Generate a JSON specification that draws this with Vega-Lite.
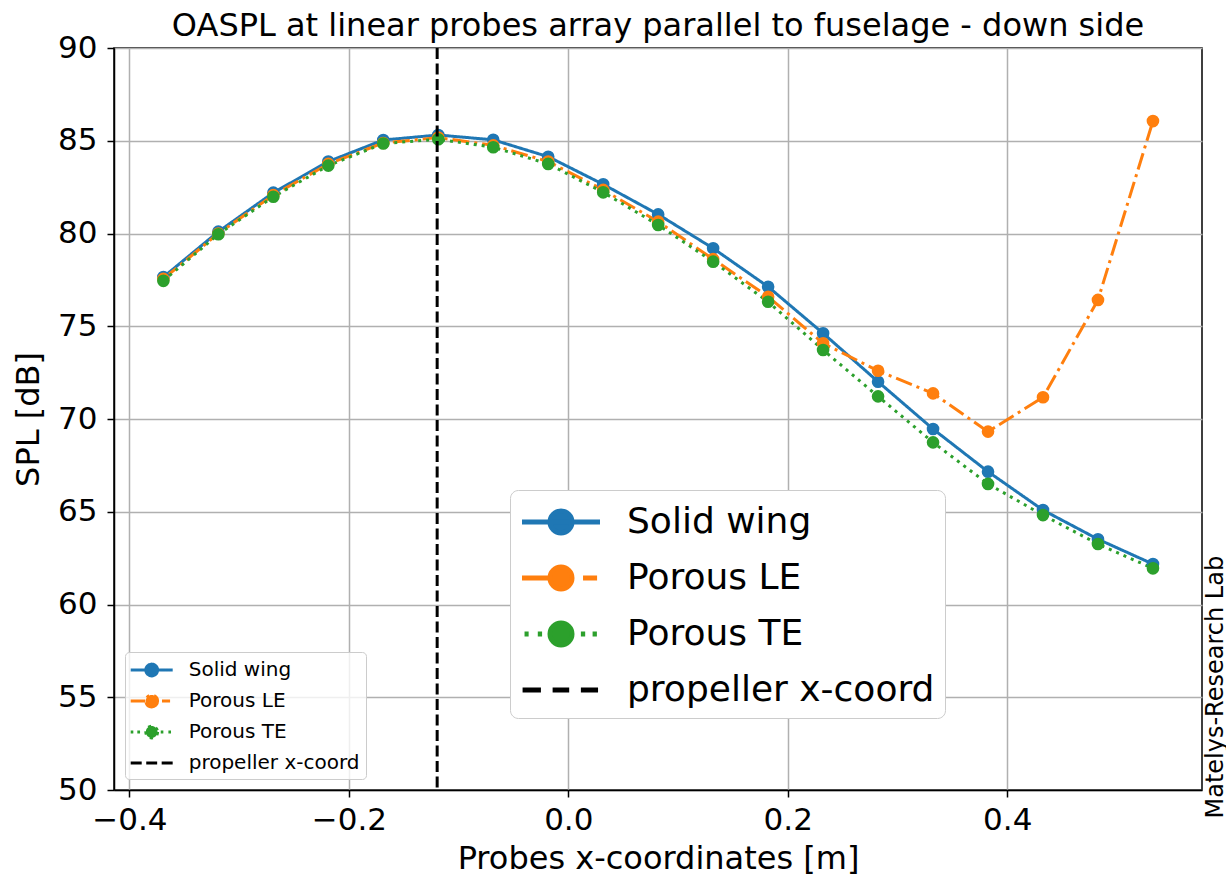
{
  "$schema": "https://vega.github.io/schema/vega-lite/v6.json",
  "width": 1088,
  "height": 742,
  "autosize": {"type": "none"},
  "padding": {"left": 114, "top": 48, "right": 24, "bottom": 89},
  "background": "white",
  "config": {
    "font": "DejaVu Sans",
    "view": {"stroke": "black", "strokeWidth": 1.5},
    "axis": {
      "labelFont": "DejaVu Sans", "titleFont": "DejaVu Sans",
      "labelColor": "black", "titleColor": "black", "titleFontWeight": "normal",
      "domainColor": "black", "tickColor": "black", "gridColor": "#b0b0b0", "gridWidth": 1.5,
      "domainWidth": 1.5, "tickWidth": 1.5, "tickSize": 7,
      "labelFontSize": 31, "titleFontSize": 32
    }
  },
  "title": {"text": "OASPL at linear probes array parallel to fuselage - down side", "fontSize": 32, "font": "DejaVu Sans", "fontWeight": "normal", "color": "black", "anchor": "middle", "offset": -11},
  "data": {"values": [
    {"x": -0.369, "series": "Solid wing", "spl": 77.65},
    {"x": -0.3189, "series": "Solid wing", "spl": 80.1},
    {"x": -0.2688, "series": "Solid wing", "spl": 82.2},
    {"x": -0.2187, "series": "Solid wing", "spl": 83.88},
    {"x": -0.1686, "series": "Solid wing", "spl": 85.04},
    {"x": -0.1185, "series": "Solid wing", "spl": 85.31},
    {"x": -0.0684, "series": "Solid wing", "spl": 85.05},
    {"x": -0.0183, "series": "Solid wing", "spl": 84.14},
    {"x": 0.0318, "series": "Solid wing", "spl": 82.65},
    {"x": 0.0819, "series": "Solid wing", "spl": 81.03},
    {"x": 0.132, "series": "Solid wing", "spl": 79.2},
    {"x": 0.1821, "series": "Solid wing", "spl": 77.13},
    {"x": 0.2322, "series": "Solid wing", "spl": 74.62},
    {"x": 0.2823, "series": "Solid wing", "spl": 72.01},
    {"x": 0.3324, "series": "Solid wing", "spl": 69.46},
    {"x": 0.3825, "series": "Solid wing", "spl": 67.16},
    {"x": 0.4326, "series": "Solid wing", "spl": 65.09},
    {"x": 0.4827, "series": "Solid wing", "spl": 63.52},
    {"x": 0.5328, "series": "Solid wing", "spl": 62.18},
    {"x": -0.369, "series": "Porous LE", "spl": 77.55},
    {"x": -0.3189, "series": "Porous LE", "spl": 80.0},
    {"x": -0.2688, "series": "Porous LE", "spl": 82.07},
    {"x": -0.2187, "series": "Porous LE", "spl": 83.75},
    {"x": -0.1686, "series": "Porous LE", "spl": 84.88},
    {"x": -0.1185, "series": "Porous LE", "spl": 85.17},
    {"x": -0.0684, "series": "Porous LE", "spl": 84.75},
    {"x": -0.0183, "series": "Porous LE", "spl": 83.88},
    {"x": 0.0318, "series": "Porous LE", "spl": 82.35},
    {"x": 0.0819, "series": "Porous LE", "spl": 80.64},
    {"x": 0.132, "series": "Porous LE", "spl": 78.62},
    {"x": 0.1821, "series": "Porous LE", "spl": 76.59},
    {"x": 0.2322, "series": "Porous LE", "spl": 74.08},
    {"x": 0.2823, "series": "Porous LE", "spl": 72.6},
    {"x": 0.3324, "series": "Porous LE", "spl": 71.38},
    {"x": 0.3825, "series": "Porous LE", "spl": 69.32},
    {"x": 0.4326, "series": "Porous LE", "spl": 71.17},
    {"x": 0.4827, "series": "Porous LE", "spl": 76.42},
    {"x": 0.5328, "series": "Porous LE", "spl": 86.06},
    {"x": -0.369, "series": "Porous TE", "spl": 77.45},
    {"x": -0.3189, "series": "Porous TE", "spl": 79.96},
    {"x": -0.2688, "series": "Porous TE", "spl": 81.98},
    {"x": -0.2187, "series": "Porous TE", "spl": 83.66},
    {"x": -0.1686, "series": "Porous TE", "spl": 84.85},
    {"x": -0.1185, "series": "Porous TE", "spl": 85.08},
    {"x": -0.0684, "series": "Porous TE", "spl": 84.65},
    {"x": -0.0183, "series": "Porous TE", "spl": 83.75},
    {"x": 0.0318, "series": "Porous TE", "spl": 82.22},
    {"x": 0.0819, "series": "Porous TE", "spl": 80.46},
    {"x": 0.132, "series": "Porous TE", "spl": 78.48},
    {"x": 0.1821, "series": "Porous TE", "spl": 76.32},
    {"x": 0.2322, "series": "Porous TE", "spl": 73.72},
    {"x": 0.2823, "series": "Porous TE", "spl": 71.22},
    {"x": 0.3324, "series": "Porous TE", "spl": 68.74},
    {"x": 0.3825, "series": "Porous TE", "spl": 66.5},
    {"x": 0.4326, "series": "Porous TE", "spl": 64.82},
    {"x": 0.4827, "series": "Porous TE", "spl": 63.26},
    {"x": 0.5328, "series": "Porous TE", "spl": 61.95},
    {"x": -0.1195, "series": "propeller x-coord"}
  ]},
  "layer": [
    {
      "transform": [{"filter": "datum.series !== 'propeller x-coord'"}],
      "mark": {"type": "line", "strokeWidth": 3},
      "encoding": {
        "x": {"field": "x", "type": "quantitative",
          "scale": {"domain": [-0.414, 0.5775], "nice": false, "zero": false},
          "axis": {"values": [-0.4, -0.2, 0, 0.2, 0.4], "format": ".1f", "title": "Probes x-coordinates [m]", "labelPadding": 8, "titlePadding": 8, "grid": true}},
        "y": {"field": "spl", "type": "quantitative",
          "scale": {"domain": [50, 90], "nice": false, "zero": false},
          "axis": {"values": [50, 55, 60, 65, 70, 75, 80, 85, 90], "title": "SPL [dB]", "labelPadding": 10, "titlePadding": 12, "grid": true}},
        "color": {"field": "series", "type": "nominal",
          "scale": {"domain": ["Solid wing", "Porous LE", "Porous TE", "propeller x-coord"], "range": ["#1f77b4", "#ff7f0e", "#2ca02c", "#000000"]},
          "legend": {
            "title": null, "orient": "bottom-left", "offset": 11, "padding": 6,
            "fillColor": "rgba(255,255,255,0.8)", "strokeColor": "#cccccc", "cornerRadius": 4,
            "labelFont": "DejaVu Sans", "labelFontSize": 20, "labelColor": "black", "labelLimit": 400,
            "symbolSize": 441, "symbolStrokeWidth": 3, "symbolOffset": 8.7, "labelOffset": 25, "rowPadding": 7,
            "encoding": {
              "symbols": {
                "shape": {"value": {"expr": "datum.value === 'Solid wing' ? 'M-2,0L2,0M0.56,0A0.56,0.56,0,1,1,-0.56,0A0.56,0.56,0,1,1,0.56,0Z' : datum.value === 'Porous LE' ? 'M-2,0L-0.6,0M0.98,0L1.75,0M0.56,0A0.56,0.56,0,1,1,-0.56,0A0.56,0.56,0,1,1,0.56,0Z' : datum.value === 'Porous TE' ? 'M-2,0L-1.75,0M-1.37,0L-1.11,0M0.86,0L1.11,0M1.59,0L1.84,0M0.56,0A0.56,0.56,0,1,1,-0.56,0A0.56,0.56,0,1,1,0.56,0Z' : 'M-2,0L-0.95,0M-0.52,0L0.52,0M0.95,0L2,0'"}},
                "stroke": {"value": {"expr": "datum.value === 'Solid wing' ? '#1f77b4' : datum.value === 'Porous LE' ? '#ff7f0e' : datum.value === 'Porous TE' ? '#2ca02c' : '#000000'"}},
                "fill": {"value": {"expr": "datum.value === 'Solid wing' ? '#1f77b4' : datum.value === 'Porous LE' ? '#ff7f0e' : datum.value === 'Porous TE' ? '#2ca02c' : '#000000'"}},
                "strokeWidth": {"value": 3},
                "size": {"value": 441},
                "opacity": {"value": 1},
                "fillOpacity": {"value": 1},
                "strokeOpacity": {"value": 1}
              }
            }
          }},
        "strokeDash": {"field": "series", "type": "nominal",
          "scale": {"domain": ["Solid wing", "Porous LE", "Porous TE", "propeller x-coord"], "range": [[1, 0], [17, 5, 3, 5], [3, 5], [11, 4.5]]},
          "legend": null}
      }
    },
    {
      "transform": [{"filter": "datum.series !== 'propeller x-coord'"}],
      "mark": {"type": "point", "filled": true, "size": 160, "opacity": 1},
      "encoding": {
        "x": {"field": "x", "type": "quantitative"},
        "y": {"field": "spl", "type": "quantitative",
          "axis": {"orient": "right", "title": "Matelys-Research Lab", "labels": false, "ticks": false, "domain": false, "grid": false,
            "titleFontSize": 24, "titleAngle": 270, "titleX": 20, "titleY": 770, "titleAlign": "left", "titleBaseline": "alphabetic"}},
        "fill": {"field": "series", "type": "nominal",
          "scale": {"domain": ["Solid wing", "Porous LE", "Porous TE", "propeller x-coord"], "range": ["#1f77b4", "#ff7f0e", "#2ca02c", "#000000"]},
          "legend": {
            "title": null, "orient": "none", "legendX": 396, "legendY": 442, "padding": 10,
            "fillColor": "white", "strokeColor": "#cccccc", "cornerRadius": 8,
            "labelFont": "DejaVu Sans", "labelFontSize": 36, "labelColor": "black", "labelLimit": 600,
            "symbolSize": 1521, "symbolStrokeWidth": 5, "symbolOffset": 19, "labelOffset": 44, "rowPadding": 13,
            "encoding": {
              "symbols": {
                "shape": {"value": {"expr": "datum.value === 'Solid wing' ? 'M-2,0L2,0M0.564,0A0.564,0.564,0,1,1,-0.564,0A0.564,0.564,0,1,1,0.564,0Z' : datum.value === 'Porous LE' ? 'M-2,0L-0.6,0M1.13,0L1.85,0M0.564,0A0.564,0.564,0,1,1,-0.564,0A0.564,0.564,0,1,1,0.564,0Z' : datum.value === 'Porous TE' ? 'M-1.87,0L-1.66,0M-1.19,0L-0.97,0M1.02,0L1.24,0M1.62,0L1.84,0M0.564,0A0.564,0.564,0,1,1,-0.564,0A0.564,0.564,0,1,1,0.564,0Z' : 'M-1.97,0L-1.03,0M-0.43,0L0.42,0M1.02,0L1.9,0'"}},
                "stroke": {"value": {"expr": "datum.value === 'Solid wing' ? '#1f77b4' : datum.value === 'Porous LE' ? '#ff7f0e' : datum.value === 'Porous TE' ? '#2ca02c' : '#000000'"}},
                "fill": {"value": {"expr": "datum.value === 'Solid wing' ? '#1f77b4' : datum.value === 'Porous LE' ? '#ff7f0e' : datum.value === 'Porous TE' ? '#2ca02c' : '#000000'"}},
                "strokeWidth": {"value": 5},
                "size": {"value": 1521},
                "opacity": {"value": 1},
                "fillOpacity": {"value": 1},
                "strokeOpacity": {"value": 1}
              }
            }
          }}
      }
    },
    {
      "transform": [{"filter": "datum.series === 'propeller x-coord'"}],
      "mark": {"type": "rule", "strokeWidth": 3},
      "encoding": {
        "x": {"field": "x", "type": "quantitative"},
        "color": {"field": "series", "type": "nominal", "legend": null},
        "strokeDash": {"field": "series", "type": "nominal", "legend": null}
      }
    }
  ],
  "resolve": {"axis": {"y": "independent"}}
}
